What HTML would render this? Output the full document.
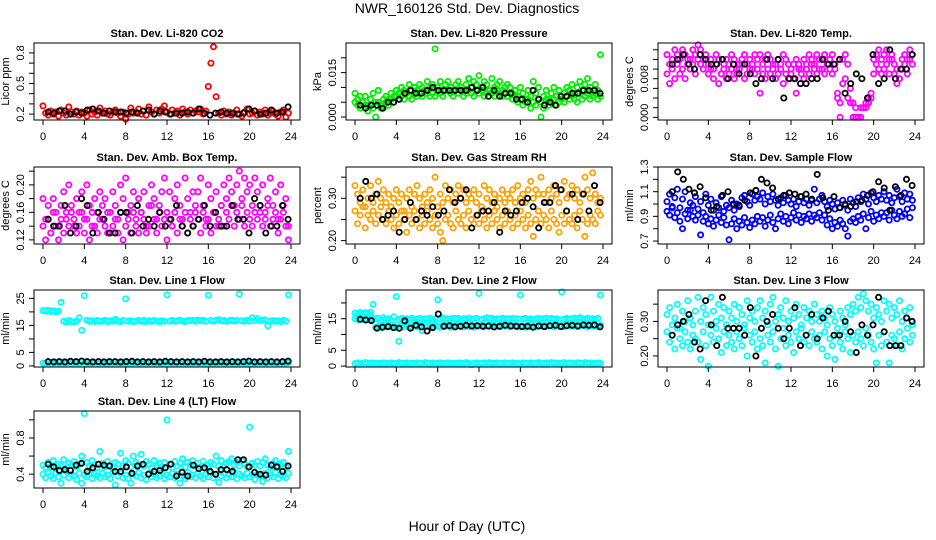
<!DOCTYPE html>
<html><head><meta charset="utf-8"><style>
html,body{margin:0;padding:0;background:#fff}
svg{display:block;font-family:"Liberation Sans",sans-serif}
</style></head><body>
<svg id="chart" width="936" height="540" viewBox="0 0 936 540">
<text x="467" y="13" font-size="14" text-anchor="middle">NWR_160126  Std. Dev. Diagnostics</text>
<text x="467" y="531" font-size="14" text-anchor="middle">Hour of Day (UTC)</text>
</svg>
<script>
// x tick labels (hours)
const xTicks = [0,4,8,12,16,20,24];

// CO2 panel
const co2Color = [0.28,0.21,0.19,0.23,0.20,0.22,0.18,0.24,0.21,0.19,0.27,0.22,
0.20,0.23,0.19,0.22,0.21,0.18,0.24,0.20,0.22,0.19,0.26,0.21,
0.23,0.20,0.19,0.22,0.24,0.21,0.18,0.22,0.15,0.20,0.26,0.21,
0.22,0.25,0.20,0.23,0.19,0.27,0.22,0.20,0.24,0.21,0.25,0.28,
0.22,0.20,0.24,0.21,0.23,0.19,0.25,0.22,0.20,0.24,0.21,0.23,
0.22,0.25,0.20,0.23,0.47,0.70,0.86,0.37,0.21,0.19,0.23,0.20,
0.22,0.19,0.21,0.24,0.20,0.18,0.22,0.25,0.20,0.21,0.23,0.19,
0.22,0.20,0.24,0.19,0.21,0.23,0.20,0.18,0.22,0.24,0.17,0.21];
const co2Black = [0.22,0.21,0.23,0.23,0.20,0.22,0.21,0.24,0.25,0.23,0.21,0.23,0.22,0.22,0.21,0.22,0.21,0.23,0.24,0.20,0.23,0.22,0.20,0.21,0.21,0.22,0.21,0.25,0.21,0.19,0.21,0.22,0.21,0.21,0.20,0.21,0.25,0.23,0.20,0.21,0.24,0.21,0.22,0.27];

// Pressure panel
const presA = [0.008,0.006,0.007,0.005,0.007,0.004,0.006,0.008,0.005,0.009,0.003,0.006,
0.007,0.006,0.008,0.007,0.009,0.008,0.010,0.009,0.008,0.011,0.009,0.010,
0.009,0.011,0.010,0.009,0.012,0.010,0.011,0.023,0.010,0.012,0.009,0.011,
0.012,0.010,0.009,0.011,0.012,0.010,0.009,0.011,0.013,0.010,0.012,0.011,
0.014,0.010,0.012,0.011,0.009,0.013,0.010,0.011,0.012,0.009,0.010,0.011,
0.010,0.008,0.009,0.007,0.010,0.008,0.006,0.009,0.007,0.012,0.008,0.010,
0.000,0.007,0.009,0.006,0.008,0.010,0.007,0.009,0.006,0.008,0.010,0.009,
0.011,0.008,0.010,0.012,0.009,0.011,0.013,0.010,0.008,0.011,0.009,0.021];
const presB = [0.005,0.004,0.003,0.005,0.004,0.002,0.004,0.003,0.000,0.005,0.004,0.003,
0.005,0.004,0.006,0.005,0.007,0.006,0.007,0.006,0.008,0.007,0.006,0.008,
0.007,0.008,0.007,0.009,0.008,0.007,0.008,0.007,0.009,0.008,0.007,0.009,
0.009,0.008,0.007,0.009,0.008,0.009,0.007,0.008,0.009,0.008,0.007,0.009,
0.008,0.009,0.007,0.008,0.009,0.008,0.007,0.009,0.008,0.007,0.008,0.007,
0.008,0.006,0.007,0.005,0.006,0.004,0.005,0.006,0.003,0.005,0.004,0.006,
0.005,0.003,0.006,0.004,0.005,0.006,0.004,0.005,0.006,0.005,0.007,0.006,
0.007,0.006,0.005,0.008,0.006,0.007,0.008,0.006,0.007,0.008,0.006,0.007];
const presBlack = [0.004,0.003,0.004,0.004,0.003,0.005,0.005,0.006,0.008,0.009,0.008,0.008,0.009,0.010,0.009,0.009,0.009,0.009,0.009,0.009,0.010,0.009,0.010,0.007,0.009,0.007,0.008,0.008,0.006,0.006,0.005,0.009,0.006,0.004,0.005,0.004,0.007,0.007,0.008,0.008,0.009,0.009,0.009,0.008];

// Li-820 temperature
const tempA = [0.013,0.011,0.012,0.014,0.013,0.012,0.014,0.013,0.011,0.012,0.014,0.013,
0.015,0.014,0.012,0.013,0.011,0.012,0.010,0.013,0.012,0.009,0.011,0.012,
0.011,0.013,0.012,0.010,0.011,0.012,0.013,0.011,0.012,0.010,0.013,0.012,
0.013,0.011,0.012,0.013,0.012,0.010,0.011,0.012,0.011,0.013,0.012,0.011,
0.010,0.011,0.012,0.011,0.010,0.012,0.011,0.013,0.012,0.011,0.013,0.012,
0.012,0.013,0.011,0.012,0.013,0.010,0.005,0.000,0.012,0.013,0.011,0.006,
0.003,0.002,0.000,0.002,0.002,0.002,0.003,0.004,0.012,0.013,0.014,0.012,
0.013,0.014,0.012,0.013,0.011,0.010,0.008,0.012,0.013,0.012,0.014,0.013];
const tempB = [0.009,0.007,0.010,0.008,0.011,0.009,0.010,0.008,0.012,0.010,0.011,0.009,
0.012,0.011,0.010,0.012,0.009,0.010,0.008,0.011,0.007,0.009,0.010,0.008,
0.009,0.010,0.008,0.009,0.010,0.011,0.008,0.009,0.010,0.011,0.009,0.010,
0.005,0.009,0.008,0.010,0.009,0.011,0.008,0.009,0.010,0.007,0.009,0.008,
0.009,0.008,0.005,0.010,0.009,0.008,0.010,0.009,0.011,0.010,0.009,0.010,
0.010,0.009,0.011,0.010,0.009,0.011,0.004,0.003,0.007,0.008,0.004,0.003,
0.000,0.000,0.000,0.000,0.002,0.003,0.004,0.005,0.009,0.011,0.010,0.009,
0.010,0.011,0.009,0.012,0.009,0.007,0.008,0.010,0.011,0.009,0.012,0.011];
const tempBlack = [0.011,0.012,0.013,0.011,0.010,0.013,0.012,0.011,0.011,0.012,0.008,0.011,0.009,0.011,0.009,0.007,0.008,0.012,0.008,0.012,0.004,0.008,0.008,0.007,0.007,0.008,0.008,0.012,0.011,0.011,0.012,0.005,0.007,0.009,0.008,0.004,0.013,0.007,0.008,0.014,0.008,0.010,0.010,0.013];

// Ambient box temperature
const ambA = [0.18,0.15,0.17,0.13,0.18,0.16,0.14,0.17,0.19,0.15,0.20,0.16,
0.14,0.18,0.16,0.19,0.15,0.20,0.17,0.14,0.18,0.16,0.19,0.15,
0.18,0.16,0.13,0.19,0.17,0.15,0.20,0.18,0.21,0.16,0.17,0.19,
0.15,0.18,0.16,0.19,0.14,0.17,0.20,0.18,0.15,0.17,0.19,0.21,
0.16,0.19,0.14,0.18,0.20,0.17,0.15,0.21,0.18,0.16,0.19,0.17,
0.19,0.21,0.17,0.15,0.20,0.18,0.16,0.19,0.14,0.17,0.20,0.18,
0.21,0.19,0.17,0.20,0.22,0.18,0.21,0.19,0.20,0.17,0.21,0.19,
0.17,0.20,0.16,0.18,0.21,0.17,0.19,0.15,0.20,0.16,0.18,0.14];
const ambB = [0.14,0.12,0.15,0.13,0.16,0.14,0.12,0.15,0.13,0.16,0.14,0.17,
0.15,0.13,0.14,0.16,0.13,0.15,0.12,0.16,0.14,0.13,0.15,0.17,
0.14,0.13,0.16,0.14,0.15,0.13,0.16,0.12,0.14,0.15,0.13,0.16,
0.14,0.13,0.16,0.15,0.13,0.14,0.17,0.15,0.13,0.16,0.14,0.15,
0.12,0.15,0.14,0.16,0.13,0.15,0.14,0.16,0.13,0.15,0.14,0.16,
0.15,0.13,0.16,0.14,0.15,0.13,0.16,0.14,0.15,0.17,0.14,0.16,
0.15,0.17,0.14,0.16,0.15,0.17,0.14,0.16,0.15,0.14,0.16,0.15,
0.16,0.14,0.15,0.17,0.14,0.15,0.16,0.13,0.15,0.17,0.14,0.12];
const ambBlack = [0.15,0.14,0.14,0.17,0.13,0.14,0.18,0.17,0.13,0.16,0.15,0.13,0.13,0.16,0.16,0.13,0.17,0.14,0.15,0.14,0.16,0.14,0.15,0.17,0.14,0.13,0.14,0.15,0.17,0.14,0.16,0.14,0.14,0.17,0.15,0.15,0.13,0.18,0.17,0.13,0.14,0.14,0.17,0.15];

// Gas stream RH
const rhA = [0.33,0.31,0.29,0.32,0.28,0.30,0.33,0.29,0.31,0.34,0.30,0.32,
0.29,0.31,0.28,0.30,0.32,0.29,0.31,0.27,0.30,0.32,0.28,0.31,
0.33,0.30,0.28,0.31,0.29,0.32,0.30,0.35,0.28,0.31,0.29,0.33,
0.30,0.32,0.29,0.31,0.33,0.30,0.32,0.29,0.31,0.30,0.32,0.29,
0.31,0.28,0.33,0.30,0.32,0.29,0.31,0.28,0.30,0.32,0.29,0.31,
0.30,0.32,0.29,0.33,0.30,0.31,0.29,0.32,0.34,0.30,0.32,0.31,
0.35,0.31,0.29,0.32,0.30,0.33,0.31,0.29,0.32,0.34,0.30,0.31,
0.33,0.30,0.32,0.29,0.31,0.35,0.32,0.30,0.36,0.31,0.29,0.30];
const rhB = [0.27,0.24,0.26,0.28,0.23,0.26,0.25,0.27,0.24,0.26,0.28,0.25,
0.24,0.27,0.25,0.23,0.26,0.24,0.27,0.25,0.22,0.26,0.24,0.27,
0.25,0.23,0.26,0.24,0.27,0.25,0.23,0.26,0.24,0.22,0.20,0.25,
0.26,0.24,0.23,0.27,0.25,0.24,0.26,0.23,0.27,0.25,0.24,0.26,
0.24,0.27,0.25,0.23,0.26,0.24,0.27,0.25,0.23,0.26,0.24,0.27,
0.25,0.23,0.26,0.24,0.27,0.25,0.23,0.26,0.24,0.21,0.25,0.27,
0.24,0.26,0.25,0.23,0.27,0.25,0.24,0.22,0.26,0.24,0.27,0.25,
0.24,0.26,0.23,0.27,0.25,0.21,0.24,0.26,0.25,0.24,0.27,0.26];
const rhBlack = [0.30,0.34,0.30,0.31,0.25,0.26,0.27,0.22,0.25,0.29,0.25,0.27,0.26,0.28,0.26,0.27,0.32,0.29,0.30,0.32,0.23,0.26,0.27,0.27,0.29,0.22,0.27,0.26,0.27,0.29,0.30,0.28,0.23,0.29,0.29,0.33,0.32,0.27,0.31,0.25,0.31,0.27,0.33,0.29];

// Sample flow
const sfA = [1.02,1.08,0.98,1.05,1.12,0.97,1.04,1.10,0.95,1.01,0.99,1.06,
0.96,1.02,0.93,1.08,0.99,1.04,0.95,1.01,0.97,1.06,0.94,0.99,
0.97,1.03,0.95,1.00,0.98,1.05,1.07,1.02,0.99,1.08,1.03,1.06,
1.04,1.09,1.00,1.06,1.02,1.08,1.03,0.99,1.05,1.01,1.07,1.03,
1.00,1.04,0.98,1.02,1.06,1.01,1.04,0.99,1.03,1.12,1.01,1.04,
1.07,1.02,0.98,1.03,1.00,0.96,1.01,0.97,1.03,0.99,0.95,1.04,
1.01,0.98,1.05,1.02,1.08,1.04,1.00,1.09,1.05,1.02,1.07,1.04,
1.10,1.03,1.07,1.01,1.05,1.12,1.06,1.02,1.09,1.04,1.08,1.03];
const sfB = [0.94,0.91,0.97,0.89,0.93,0.86,0.80,0.92,0.88,0.95,0.90,0.87,
0.91,0.75,0.86,0.90,0.84,0.88,0.82,0.87,0.91,0.85,0.89,0.83,
0.71,0.84,0.88,0.80,0.86,0.83,0.89,0.85,0.81,0.87,0.84,0.90,
0.86,0.89,0.82,0.87,0.91,0.85,0.80,0.88,0.92,0.86,0.90,0.84,
0.89,0.93,0.87,0.91,0.85,0.90,0.88,0.92,0.86,0.91,0.89,0.93,
0.87,0.91,0.83,0.88,0.80,0.85,0.82,0.87,0.84,0.80,0.74,0.86,
0.88,0.85,0.90,0.87,0.92,0.80,0.89,0.94,0.86,0.91,0.88,0.93,
0.90,0.93,0.87,0.95,0.91,0.88,0.94,0.90,0.92,0.96,0.89,0.97];
const sfBlack = [1.10,1.26,1.20,1.12,1.09,1.14,1.05,0.95,0.98,1.07,1.10,1.00,0.99,1.03,1.09,1.11,1.20,1.17,1.13,1.04,1.07,1.09,1.08,1.06,1.08,1.04,1.24,1.05,0.95,1.06,0.97,1.00,0.98,1.02,1.03,1.07,1.10,1.18,1.13,0.95,1.14,1.07,1.20,1.15];

// Line 1 flow
const l1High = [20.5,20.3,20.6,20.1,20.4,20.0,20.3,23.5,16.5,16.2,16.8,16.4,
16.3,16.6,17.8,13.2,26.0,16.9,16.5,16.7,16.4,16.8,16.5,16.6,
16.9,16.4,16.7,16.5,17.2,16.6,16.4,16.8,24.8,16.5,16.7,16.4,
16.6,16.8,16.5,16.9,16.4,16.7,16.5,16.8,16.6,16.4,16.7,16.5,
26.3,16.6,16.8,16.5,16.7,16.9,16.6,16.4,16.8,16.7,16.9,16.6,
17.0,16.7,16.9,16.5,26.2,16.8,16.6,16.9,17.1,16.7,16.8,16.5,
16.7,16.9,16.6,16.8,26.6,16.7,16.5,16.9,16.6,17.8,16.8,17.5,
16.7,16.9,17.0,14.8,16.6,16.8,16.5,16.7,16.4,16.9,16.6,26.3];
const l1Low = [1.0,0.9,1.1,1.0,0.8,1.2,1.0,0.9,1.1,1.0,1.2,0.9,
1.0,1.1,0.9,1.8,1.0,1.1,0.9,1.0,1.2,1.0,0.9,1.1,
1.0,0.9,1.1,1.0,1.2,0.9,1.0,1.1,0.9,1.0,1.1,1.0,
1.2,0.9,1.0,1.1,0.9,1.0,1.2,1.0,0.9,1.1,1.0,0.9,
1.1,1.0,0.9,1.2,1.0,1.1,0.9,1.0,1.1,1.0,0.9,1.1,
1.0,1.2,0.9,1.0,1.1,1.0,0.9,1.1,1.0,1.2,0.9,1.0,
1.1,1.0,0.9,1.1,1.0,1.2,0.9,1.0,1.1,1.0,0.9,1.1,
1.0,1.1,0.9,1.0,1.2,1.0,1.1,0.9,1.0,1.1,1.0,1.2];
const l1Black = [1.6,1.5,1.6,1.5,1.7,1.6,1.8,1.6,1.5,1.6,1.5,1.6,1.6,1.5,1.6,1.7,1.5,1.6,1.5,1.6,1.5,1.7,1.6,1.5,1.6,1.5,1.6,1.5,1.7,1.5,1.5,1.6,1.5,1.6,1.5,1.6,1.8,1.5,1.6,1.5,1.6,1.5,1.6,1.8];

// Line 2 flow
const l2High = [16.8,16.5,17.0,16.6,16.9,16.7,17.1,19.5,14.9,15.2,14.6,15.3,
14.8,15.0,14.5,15.6,22.0,14.7,15.1,14.6,15.0,14.8,15.2,14.7,
14.9,15.1,14.6,15.0,14.8,15.2,14.7,15.0,21.0,14.9,15.3,14.8,
15.0,14.7,15.2,14.9,15.1,14.6,15.0,14.8,15.2,14.7,14.9,15.1,
23.0,14.8,15.0,15.3,14.9,15.1,14.7,15.0,14.8,15.2,14.9,15.0,
14.7,15.1,14.8,15.0,22.5,14.9,15.1,14.7,15.0,14.6,14.9,15.1,
14.8,15.0,15.2,14.9,15.1,14.8,15.0,14.7,23.5,14.9,15.1,14.8,
15.0,15.2,14.9,15.3,15.0,14.8,15.1,14.9,15.0,14.7,15.1,22.5];
const l2Mid = [15.0,14.7,15.2,14.8,14.9,15.0,14.6,15.1,12.3,12.6,12.2,12.8,
12.4,12.9,12.5,13.0,12.3,7.8,12.7,12.4,13.1,12.6,12.2,12.8,
12.5,12.9,11.2,12.7,12.4,12.8,12.5,13.0,12.6,12.3,12.9,12.6,
12.7,12.3,12.8,12.5,13.0,12.6,12.4,12.9,12.5,12.8,12.3,12.7,
12.6,12.9,12.4,12.8,12.6,13.0,12.5,12.7,12.4,12.9,12.6,12.8,
12.5,12.7,12.9,12.4,12.8,12.6,12.3,12.9,12.5,12.7,12.4,12.8,
12.6,13.0,12.5,12.8,12.7,12.4,12.9,12.6,12.8,12.5,13.1,12.7,
12.6,12.9,12.5,12.8,13.0,12.7,12.4,12.9,12.6,12.8,12.5,12.9];
const l2Low = [0.8,1.0,0.7,0.9,1.1,0.8,0.9,1.0,0.7,0.9,0.8,1.0,
0.9,0.7,1.0,0.8,0.9,1.1,0.8,0.9,1.0,0.7,0.9,0.8,
1.0,0.9,0.8,1.1,0.9,0.8,1.0,0.7,0.9,1.0,0.8,0.9,
1.0,0.8,0.9,0.7,1.0,0.9,0.8,1.1,0.9,0.4,0.8,1.0,
0.9,0.8,1.0,0.9,1.1,0.8,0.9,1.0,0.8,0.9,1.0,0.8,
0.9,1.0,0.8,0.9,0.7,1.0,0.9,0.8,1.0,0.9,0.8,1.1,
0.9,0.8,1.0,0.9,1.1,0.9,1.0,0.8,0.9,1.1,0.8,1.0,
0.9,0.8,1.0,0.9,0.8,1.1,0.9,1.0,0.8,0.9,1.0,0.9];
const l2Black = [14.8,14.6,14.4,12.0,12.3,12.5,12.2,12.0,14.3,12.0,12.9,12.4,11.1,12.2,16.5,12.6,12.8,12.4,12.6,12.9,12.7,12.8,12.6,12.7,12.4,12.6,12.9,12.7,12.6,12.5,12.6,12.3,12.7,12.5,12.8,12.9,12.5,12.8,12.9,12.7,13.0,12.9,13.0,12.4];

// Line 3 flow
const l3A = [0.32,0.34,0.29,0.31,0.35,0.28,0.33,0.30,0.36,0.31,0.29,0.33,
0.37,0.30,0.34,0.32,0.29,0.37,0.33,0.30,0.35,0.31,0.34,0.29,
0.33,0.31,0.35,0.30,0.34,0.32,0.29,0.36,0.31,0.33,0.30,0.34,
0.36,0.31,0.33,0.29,0.35,0.37,0.30,0.32,0.34,0.31,0.36,0.30,
0.33,0.31,0.35,0.32,0.29,0.34,0.31,0.33,0.30,0.35,0.32,0.30,
0.33,0.31,0.29,0.34,0.32,0.30,0.28,0.33,0.31,0.29,0.34,0.32,
0.35,0.33,0.37,0.34,0.38,0.36,0.33,0.35,0.31,0.34,0.32,0.30,
0.36,0.33,0.35,0.31,0.34,0.32,0.36,0.30,0.33,0.31,0.34,0.29];
const l3B = [0.27,0.24,0.26,0.22,0.28,0.25,0.23,0.27,0.24,0.22,0.26,0.25,
0.24,0.19,0.27,0.23,0.17,0.26,0.24,0.28,0.25,0.21,0.27,0.23,
0.26,0.24,0.22,0.27,0.25,0.23,0.28,0.20,0.26,0.24,0.27,0.22,
0.25,0.23,0.18,0.26,0.24,0.27,0.22,0.17,0.25,0.28,0.23,0.26,
0.24,0.21,0.27,0.25,0.28,0.24,0.26,0.23,0.27,0.25,0.24,0.26,
0.22,0.27,0.20,0.25,0.23,0.19,0.26,0.24,0.22,0.27,0.25,0.21,
0.26,0.24,0.27,0.25,0.23,0.28,0.26,0.24,0.22,0.18,0.26,0.23,
0.27,0.24,0.18,0.26,0.25,0.23,0.27,0.22,0.25,0.28,0.24,0.26];
const l3Black = [0.26,0.29,0.30,0.32,0.24,0.22,0.36,0.29,0.23,0.37,0.28,0.28,0.28,0.26,0.34,0.20,0.28,0.30,0.32,0.28,0.25,0.28,0.34,0.23,0.26,0.32,0.25,0.31,0.33,0.26,0.26,0.30,0.27,0.21,0.29,0.26,0.29,0.37,0.27,0.23,0.23,0.23,0.31,0.30];

// Line 4 (LT) flow
const l4A = [0.50,0.47,0.53,0.48,0.55,0.46,0.51,0.49,0.56,0.47,0.52,0.50,
0.54,0.48,0.51,0.60,1.07,0.53,0.49,0.55,0.50,0.47,0.65,0.52,
0.48,0.54,0.50,0.47,0.53,0.51,0.63,0.49,0.55,0.52,0.48,0.60,
0.53,0.50,0.62,0.49,0.54,0.51,0.47,0.55,0.50,0.52,0.48,0.53,
1.00,0.51,0.47,0.54,0.49,0.52,0.57,0.48,0.53,0.50,0.55,0.49,
0.52,0.48,0.54,0.50,0.47,0.53,0.51,0.60,0.49,0.55,0.48,0.52,
0.54,0.57,0.50,0.53,0.49,0.55,0.51,0.48,0.92,0.52,0.50,0.54,
0.49,0.53,0.57,0.50,0.47,0.52,0.55,0.49,0.51,0.53,0.48,0.65];
const l4B = [0.40,0.36,0.42,0.38,0.35,0.41,0.37,0.30,0.39,0.43,0.36,0.40,
0.38,0.34,0.41,0.30,0.39,0.37,0.42,0.35,0.40,0.38,0.36,0.41,
0.37,0.39,0.35,0.42,0.28,0.38,0.41,0.36,0.39,0.35,0.30,0.40,
0.38,0.42,0.36,0.39,0.34,0.41,0.37,0.40,0.36,0.38,0.42,0.35,
0.39,0.37,0.41,0.36,0.40,0.30,0.38,0.35,0.42,0.37,0.39,0.36,
0.41,0.38,0.35,0.40,0.37,0.42,0.36,0.39,0.31,0.38,0.41,0.36,
0.39,0.37,0.42,0.35,0.40,0.38,0.36,0.41,0.37,0.39,0.34,0.40,
0.38,0.32,0.41,0.36,0.39,0.37,0.42,0.35,0.40,0.38,0.36,0.41];
const l4Black = [0.51,0.48,0.44,0.45,0.44,0.50,0.52,0.43,0.47,0.51,0.50,0.49,0.43,0.43,0.48,0.41,0.49,0.51,0.40,0.43,0.44,0.47,0.51,0.38,0.42,0.38,0.50,0.46,0.47,0.43,0.40,0.45,0.45,0.43,0.56,0.56,0.48,0.42,0.40,0.39,0.50,0.48,0.43,0.49];

const NS = 'http://www.w3.org/2000/svg';
const svg = document.getElementById('chart');
function mk(tag, attrs, parent) {
  const e = document.createElementNS(NS, tag);
  for (const k in attrs) e.setAttribute(k, attrs[k]);
  (parent || svg).appendChild(e);
  return e;
}

const panels = [
 {title:'Stan. Dev. Li-820 CO2', ylab:'Licor ppm', col:0,row:0, ylim:[0.142,0.897], ticks:[0.2,0.3,0.4,0.5,0.6,0.7,0.8], labels:[0.2,0.5,0.8], dec:1, color:'#ff0000', series:[co2Color], black:co2Black},
 {title:'Stan. Dev. Li-820 Pressure', ylab:'kPa', col:1,row:0, ylim:[-0.001,0.025], ticks:[0,0.005,0.01,0.015,0.02], labels:[0,0.015], dec:3, color:'#00ee00', series:[presA,presB], black:presBlack},
 {title:'Stan. Dev. Li-820 Temp.', ylab:'degrees C', col:2,row:0, ylim:[-0.00055,0.0154], ticks:[0,0.002,0.004,0.006,0.008,0.010,0.012,0.014], labels:[0,0.008], dec:3, color:'#ff00ff', series:[tempA,tempB], black:tempBlack},
 {title:'Stan. Dev. Amb. Box Temp.', ylab:'degrees C', col:0,row:1, ylim:[0.114,0.226], ticks:[0.12,0.14,0.16,0.18,0.20,0.22], labels:[0.12,0.16,0.20], dec:2, color:'#ff00ff', series:[ambA,ambB], black:ambBlack},
 {title:'Stan. Dev. Gas Stream RH', ylab:'percent', col:1,row:1, ylim:[0.192,0.374], ticks:[0.20,0.25,0.30,0.35], labels:[0.20,0.30], dec:2, color:'#ffa000', series:[rhA,rhB], black:rhBlack},
 {title:'Stan. Dev. Sample Flow', ylab:'ml/min', col:2,row:1, ylim:[0.676,1.3], ticks:[0.7,0.8,0.9,1.0,1.1,1.2,1.3], labels:[0.7,0.9,1.1,1.3], dec:1, color:'#0000ff', series:[sfA,sfB], black:sfBlack},
 {title:'Stan. Dev. Line 1 Flow', ylab:'ml/min', col:0,row:2, ylim:[-0.4,28.1], ticks:[0,5,10,15,20,25], labels:[0,5,15,25], dec:0, color:'#00ffff', series:[l1High,l1Low], black:l1Black},
 {title:'Stan. Dev. Line 2 Flow', ylab:'ml/min', col:1,row:2, ylim:[-0.3,24.1], ticks:[0,5,10,15,20], labels:[0,5,15], dec:0, color:'#00ffff', series:[l2High,l2Mid,l2Low], black:l2Black},
 {title:'Stan. Dev. Line 3 Flow', ylab:'ml/min', col:2,row:2, ylim:[0.168,0.391], ticks:[0.20,0.25,0.30,0.35], labels:[0.20,0.30], dec:2, color:'#00ffff', series:[l3A,l3B], black:l3Black},
 {title:'Stan. Dev. Line 4 (LT) Flow', ylab:'ml/min', col:0,row:3, ylim:[0.247,1.098], ticks:[0.4,0.6,0.8,1.0], labels:[0.4,0.8], dec:1, color:'#00ffff', series:[l4A,l4B], black:l4Black}
];
const rowTop = [43,167,290,411];
const PH = 77;

panels.forEach((p, pi) => {
  const L = 34 + p.col*312, R = L + 266;
  const T = rowTop[p.row], B = T + PH;
  const xs = h => (L + 9) + h/24*248;
  const ys = v => B - (v - p.ylim[0])/(p.ylim[1]-p.ylim[0])*(B-T);
  const slug = p.title.toLowerCase().replace(/[^a-z0-9]+/g,'-').replace(/^-|-$/g,'');
  const g = mk('g', {});
  
  
  const t = mk('text', {x:(L+R)/2, y:T-6, 'font-size':11, 'font-weight':'bold', 'text-anchor':'middle'}, g);
  t.textContent = p.title;
  
  
  // points
  const pts = mk('g', {fill:'none', 'stroke-width':1.8}, g);
  
  
  p.series.forEach(arr => {
    arr.forEach((v, i) => {
      const c = mk('circle', {cx:xs(i*0.25).toFixed(1), cy:ys(v).toFixed(1), r:2.6, stroke:p.color}, pts);
      
      
    });
  });
  p.black.forEach((v, i) => {
    const c = mk('circle', {cx:xs(0.5 + i*0.54).toFixed(1), cy:ys(v).toFixed(1), r:2.6, stroke:'#000'}, pts);
    
    
  });
  // box
  const box = mk('rect', {x:L, y:T, width:R-L, height:B-T, fill:'none', stroke:'#000', 'stroke-width':1}, g);
  
  
  // x axis
  const xa = mk('g', {}, g);
  
  
  mk('line', {x1:xs(0), x2:xs(24), y1:B, y2:B, stroke:'#000'}, xa);
  xTicks.forEach(h => {
    mk('line', {x1:xs(h), x2:xs(h), y1:B, y2:B+5, stroke:'#000'}, xa);
    const tl = mk('text', {x:xs(h), y:B+20, 'font-size':11, 'text-anchor':'middle'}, xa);
    tl.textContent = h;
    
    
  });
  // y axis
  const ya = mk('g', {}, g);
  
  
  mk('line', {x1:L, x2:L, y1:ys(p.ticks[0]), y2:ys(p.ticks[p.ticks.length-1]), stroke:'#000'}, ya);
  p.ticks.forEach(v => mk('line', {x1:L-5, x2:L, y1:ys(v), y2:ys(v), stroke:'#000'}, ya));
  p.labels.forEach(v => {
    const yy = ys(v);
    const tl = mk('text', {x:L-10, y:yy, 'font-size':11, 'text-anchor':'middle', transform:`rotate(-90 ${L-10} ${yy})`}, ya);
    tl.textContent = v.toFixed(p.dec);
    
    
  });
  const yl = mk('text', {x:L-25, y:(T+B)/2, 'font-size':11, 'text-anchor':'middle', transform:`rotate(-90 ${L-25} ${(T+B)/2})`}, ya);
  yl.textContent = p.ylab;
  
  
});
</script>
</body></html>
